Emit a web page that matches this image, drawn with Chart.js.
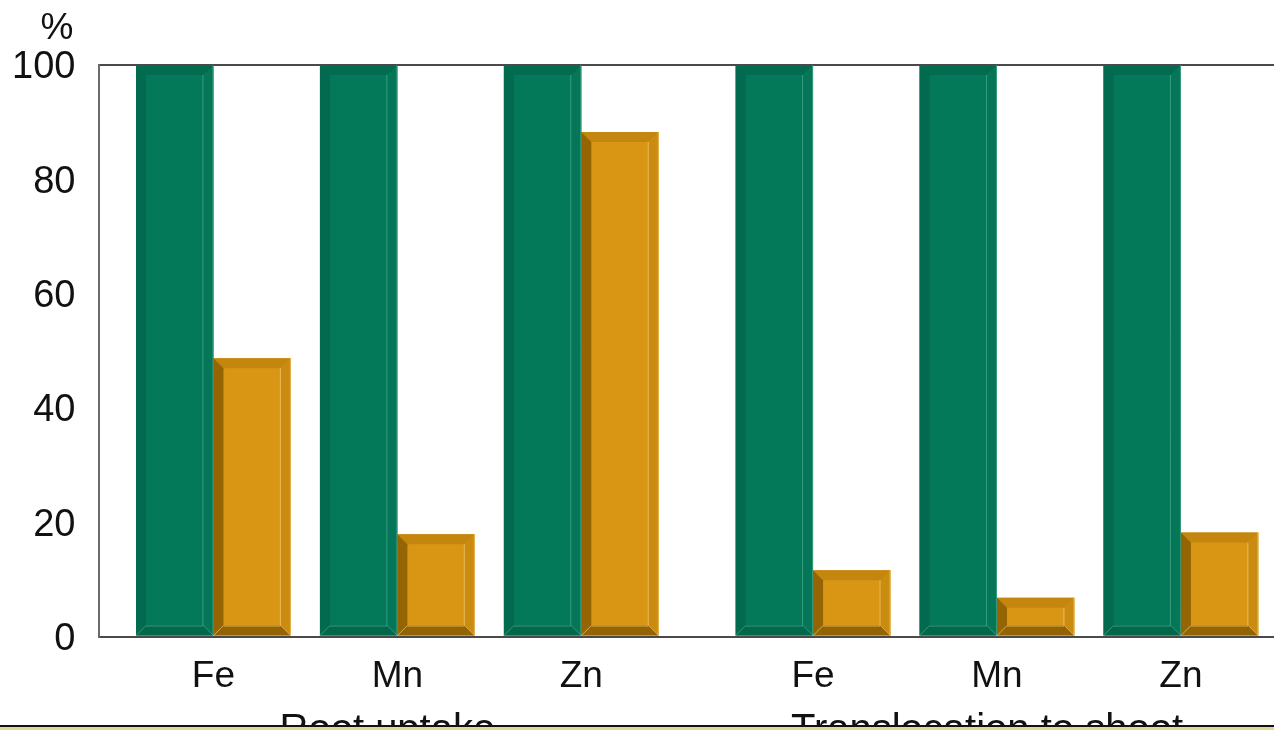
<!DOCTYPE html>
<html>
<head>
<meta charset="utf-8">
<script src="https://cdn.jsdelivr.net/npm/chart.js@4/dist/chart.umd.min.js"></script>
<style>
  html, body { margin: 0; padding: 0; background: #ffffff; }
  #wrap { width: 1274px; height: 730px; }
</style>
</head>
<body>
<div id="wrap"><canvas id="chart" width="1274" height="730"></canvas></div>
<script>
// Micronutrient uptake and translocation, relative to control (%)
const groups = ['Root uptake', 'Translocation to shoot'];
const elements = ['Fe', 'Mn', 'Zn'];
const controlValues = [100, 100, 100, 100, 100, 100];
const treatedValues = [48.7, 17.9, 88.3, 11.6, 6.8, 18.2];
const yTicks = [0, 20, 40, 60, 80, 100];

// Category positions along a numeric axis, with extra room between the two groups
const GROUP_GAP = 0.26;
const positions = [];
const tickLabels = [];
const groupOf = [];
groups.forEach((g, gi) => {
  elements.forEach((el, ei) => {
    positions.push(gi * elements.length + ei + gi * GROUP_GAP);
    tickLabels.push(el);
    groupOf.push(gi);
  });
});

const toPoints = vals => vals.map((v, i) => ({ x: positions[i], y: v }));

const FONT = '"Liberation Sans", Arial, Helvetica, sans-serif';

// Bevelled bar faces, drawn over each bar element
const bevelPlugin = {
  id: 'bevel',
  afterDatasetsDraw(chart) {
    const ctx = chart.ctx;
    chart.data.datasets.forEach((ds, di) => {
      const meta = chart.getDatasetMeta(di);
      const shade = ds.bevel;
      meta.data.forEach(bar => {
        const p = bar.getProps(['x', 'y', 'base', 'width'], true);
        const l = p.x - p.width / 2, r = p.x + p.width / 2;
        const t = Math.min(p.y, p.base), b = Math.max(p.y, p.base);
        const s = Math.min(10, (b - t) / 2);
        const poly = (pts, c) => {
          ctx.beginPath();
          ctx.moveTo(pts[0][0], pts[0][1]);
          for (let k = 1; k < pts.length; k++) ctx.lineTo(pts[k][0], pts[k][1]);
          ctx.closePath();
          ctx.fillStyle = c;
          ctx.fill();
        };
        ctx.save();
        poly([[l, t], [r, t], [r - s, t + s], [l + s, t + s]], shade.top);
        poly([[l, t], [l + s, t + s], [l + s, b - s], [l, b]], shade.left);
        poly([[r, t], [r, b], [r - s, b - s], [r - s, t + s]], shade.right);
        poly([[l, b], [l + s, b - s], [r - s, b - s], [r, b]], shade.bottom);
        // soft highlight along the inner face and bevel seams
        ctx.strokeStyle = shade.light;
        ctx.lineWidth = 1;
        ctx.beginPath();
        ctx.moveTo(l + s, b - s + 0.5); ctx.lineTo(r - s - 0.5, b - s + 0.5);
        ctx.lineTo(r - s - 0.5, t + s);
        ctx.moveTo(r - s, b - s); ctx.lineTo(r, b);
        ctx.moveTo(l + s, b - s); ctx.lineTo(l, b);
        ctx.moveTo(r - 0.5, t); ctx.lineTo(r - 0.5, b);
        ctx.stroke();
        ctx.restore();
      });
    });
  }
};

// Unit label above the value axis, and the group captions under the element names
const annotationPlugin = {
  id: 'annotations',
  afterDraw(chart) {
    const ctx = chart.ctx;
    const ys = chart.scales.y, xs = chart.scales.x;
    ctx.save();
    ctx.fillStyle = '#111111';
    ctx.font = '37px ' + FONT;
    ctx.textAlign = 'right';
    ctx.textBaseline = 'alphabetic';
    ctx.fillText('%', ys.right - 26, 39);

    ctx.font = '40px ' + FONT;
    ctx.textAlign = 'center';
    groups.forEach((g, gi) => {
      const px = positions.filter((_, i) => groupOf[i] === gi).map(v => xs.getPixelForValue(v));
      const cx = (Math.min(...px) + Math.max(...px)) / 2;
      ctx.fillText(g, cx - 10, 742);
    });

    // frame line across the bottom of the slide
    ctx.fillStyle = '#e2d896';
    ctx.fillRect(0, 727, chart.width, 3);
    ctx.fillStyle = '#111111';
    ctx.fillRect(0, 725, chart.width, 2);
    ctx.restore();
  }
};

new Chart(document.getElementById('chart'), {
  type: 'bar',
  data: {
    datasets: [
      {
        label: 'Control',
        data: toPoints(controlValues),
        backgroundColor: '#04795A',
        borderWidth: 0,
        bevel: { top: '#036c50', left: '#026a4e', right: '#057657', bottom: '#02674b', light: 'rgba(120,200,170,0.45)' }
      },
      {
        label: 'Treated',
        data: toPoints(treatedValues),
        backgroundColor: '#D99614',
        borderWidth: 0,
        bevel: { top: '#c4860e', left: '#956504', right: '#c98b10', bottom: '#946404', light: 'rgba(250,215,140,0.55)' }
      }
    ]
  },
  options: {
    responsive: false,
    animation: false,
    layout: { padding: { left: -12, top: 65, right: 0, bottom: 13 } },
    datasets: {
      bar: { categoryPercentage: 0.842, barPercentage: 1.0 }
    },
    plugins: {
      legend: { display: false },
      tooltip: { enabled: false }
    },
    scales: {
      x: {
        type: 'linear',
        offset: false,
        min: -0.62,
        max: 5.766,
        z: 1,
        afterBuildTicks(scale) {
          scale.ticks = positions.map(v => ({ value: v }));
        },
        afterFit(scale) {
          scale.paddingLeft = 0;
          scale.paddingRight = 0;
        },
        ticks: {
          autoSkip: false,
          maxRotation: 0,
          padding: 18,
          color: '#111111',
          font: { family: FONT, size: 37 },
          callback: (value, index) => tickLabels[index]
        },
        grid: { display: false, drawTicks: false },
        border: { display: true, color: '#4a4a4a', width: 2 }
      },
      y: {
        min: 0,
        max: 100,
        z: 1,
        afterBuildTicks(scale) {
          scale.ticks = yTicks.map(v => ({ value: v }));
        },
        ticks: {
          padding: 24,
          labelOffset: 3,
          color: '#111111',
          font: { family: FONT, size: 38 }
        },
        grid: {
          drawTicks: false,
          lineWidth: 2,
          color: c => (c.tick && c.tick.value === 100 ? '#4a4a4a' : 'rgba(0,0,0,0)')
        },
        border: { display: true, color: '#6a6a6a', width: 2 }
      }
    }
  },
  plugins: [bevelPlugin, annotationPlugin]
});
</script>
</body>
</html>
